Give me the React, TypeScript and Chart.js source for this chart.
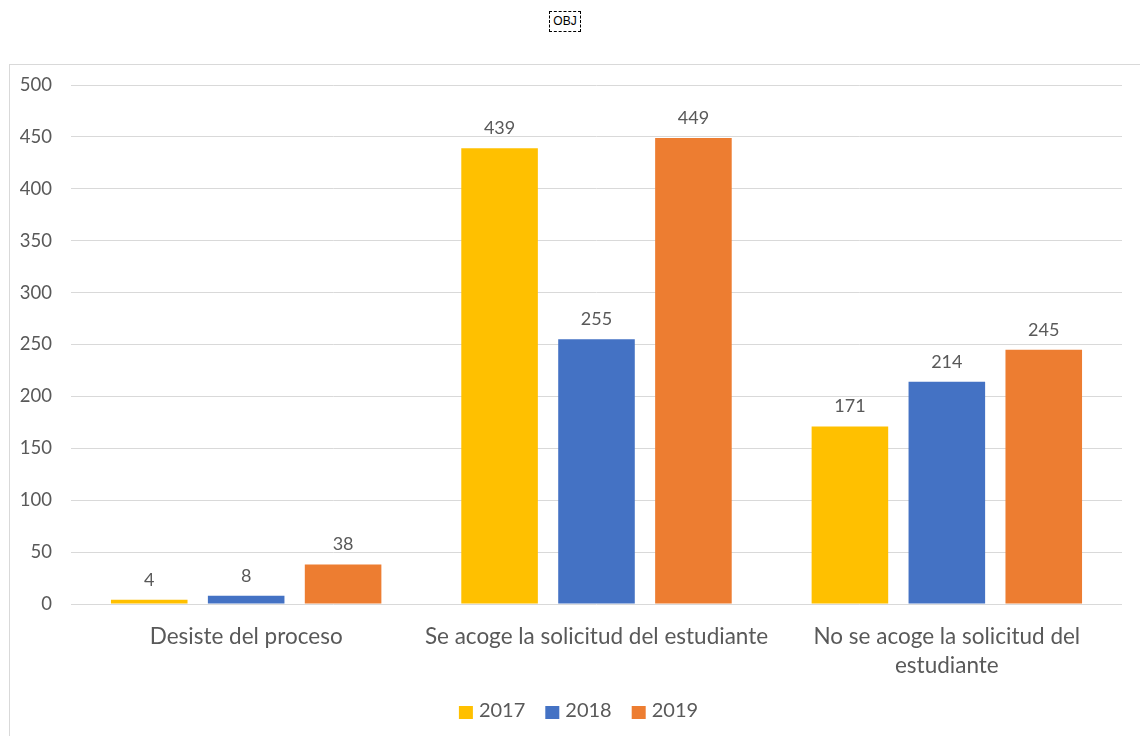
import React, { useEffect, useRef } from "react";
import { Chart, registerables } from "chart.js";

Chart.register(...registerables);

const categories: (string | string[])[] = [
  "Desiste del proceso",
  "Se acoge la solicitud del estudiante",
  ["No se acoge la solicitud del", "estudiante"],
];
const seriesNames = ["2017", "2018", "2019"];
const values2017 = [4, 439, 171];
const values2018 = [8, 255, 214];
const values2019 = [38, 449, 245];
const seriesColors = ["#FFC000", "#4472C4", "#ED7D31"];
const yTicks = { min: 0, max: 500, step: 50 };

const FONT = "Lato, 'Noto Sans', sans-serif";
const TEXT = "#595959";

const dataLabelPlugin = {
  id: "dataLabels",
  afterDatasetsDraw(chart: any) {
    const ctx = chart.ctx;
    ctx.save();
    ctx.font = `18px ${FONT}`;
    ctx.fillStyle = TEXT;
    ctx.textAlign = "center";
    ctx.textBaseline = "middle";
    chart.data.datasets.forEach((ds: any, i: number) => {
      const meta = chart.getDatasetMeta(i);
      meta.data.forEach((el: any, j: number) => {
        ctx.fillText(String(ds.data[j]), el.x, el.y - 20);
      });
    });
    ctx.restore();
  },
};

// Legend drawn below the x axis, centred like the reference
const legendPlugin = {
  id: "customLegend",
  afterDraw(chart: any) {
    const ctx = chart.ctx;
    ctx.save();
    ctx.font = `20px ${FONT}`;
    ctx.textBaseline = "middle";
    ctx.textAlign = "left";
    const box = 14;
    const gap = 6;
    const spacing = 20;
    const items = chart.data.datasets.map((ds: any) => ({
      text: ds.label,
      color: ds.backgroundColor,
      w: ctx.measureText(ds.label).width,
    }));
    const total =
      items.reduce((s: number, it: any) => s + box + gap + it.w, 0) +
      spacing * (items.length - 1);
    const centerX = chart.chartArea.left + chart.chartArea.width / 2 - 18;
    const cy = chart.scales.x.bottom + 30;
    let x = centerX - total / 2;
    items.forEach((it: any) => {
      ctx.fillStyle = it.color;
      ctx.fillRect(x, cy - 6, box, 13);
      ctx.fillStyle = TEXT;
      ctx.fillText(it.text, x + box + gap, cy - 1);
      x += box + gap + it.w + spacing;
    });
    ctx.restore();
  },
};

export default function App() {
  const canvasRef = useRef<HTMLCanvasElement | null>(null);

  useEffect(() => {
    if (!canvasRef.current) return;
    const allValues = [values2017, values2018, values2019];
    const chart = new Chart(canvasRef.current, {
      type: "bar",
      data: {
        labels: categories as any,
        datasets: seriesNames.map((name, i) => ({
          label: name,
          data: allValues[i],
          backgroundColor: seriesColors[i],
          borderWidth: 0,
          categoryPercentage: 0.83,
          barPercentage: 0.79,
        })),
      },
      options: {
        responsive: false,
        animation: false,
        layout: { padding: { top: 20, right: 18, left: 0, bottom: 83 } },
        plugins: {
          tooltip: { enabled: false },
          legend: { display: false },
        },
        scales: {
          x: {
            grid: { display: false, drawTicks: false },
            border: { display: false },
            ticks: {
              color: TEXT,
              font: { family: FONT, size: 22.5, lineHeight: 1.3 },
              padding: 18,
              maxRotation: 0,
              autoSkip: false,
            },
            afterFit(scale: any) {
              scale.height = 78;
            },
          },
          y: {
            min: yTicks.min,
            max: yTicks.max,
            grid: {
              color: "#d9d9d9",
              drawTicks: true,
              tickLength: 19,
              tickColor: "rgba(0,0,0,0)",
              lineWidth: 1,
            },
            border: { display: false },
            ticks: {
              stepSize: yTicks.step,
              color: TEXT,
              font: { family: FONT, size: 18.5 },
              padding: 0,
            },
            afterFit(scale: any) {
              scale.width = 61;
            },
          },
        },
      },
      plugins: [dataLabelPlugin, legendPlugin],
    } as any);
    return () => chart.destroy();
  }, []);

  return (
    <div
      style={{
        position: "absolute",
        left: 0,
        top: 0,
        width: 1140,
        height: 736,
        overflow: "hidden",
        background: "#fff",
      }}
    >
      <div
        style={{
          position: "absolute",
          left: 549,
          top: 11,
          width: 30,
          height: 19,
          border: "1px dashed #000",
          fontFamily: "'Liberation Sans', Arial, sans-serif",
          fontSize: 12,
          lineHeight: "19px",
          textAlign: "center",
          color: "#000",
        }}
      >
        OBJ
      </div>
      <div
        style={{
          position: "absolute",
          left: 9,
          top: 64,
          width: 1200,
          height: 720,
          border: "1px solid #d9d9d9",
        }}
      />
      <canvas
        ref={canvasRef}
        width={1130}
        height={700}
        style={{ position: "absolute", left: 10, top: 65, width: 1130, height: 700 }}
      />
    </div>
  );
}
